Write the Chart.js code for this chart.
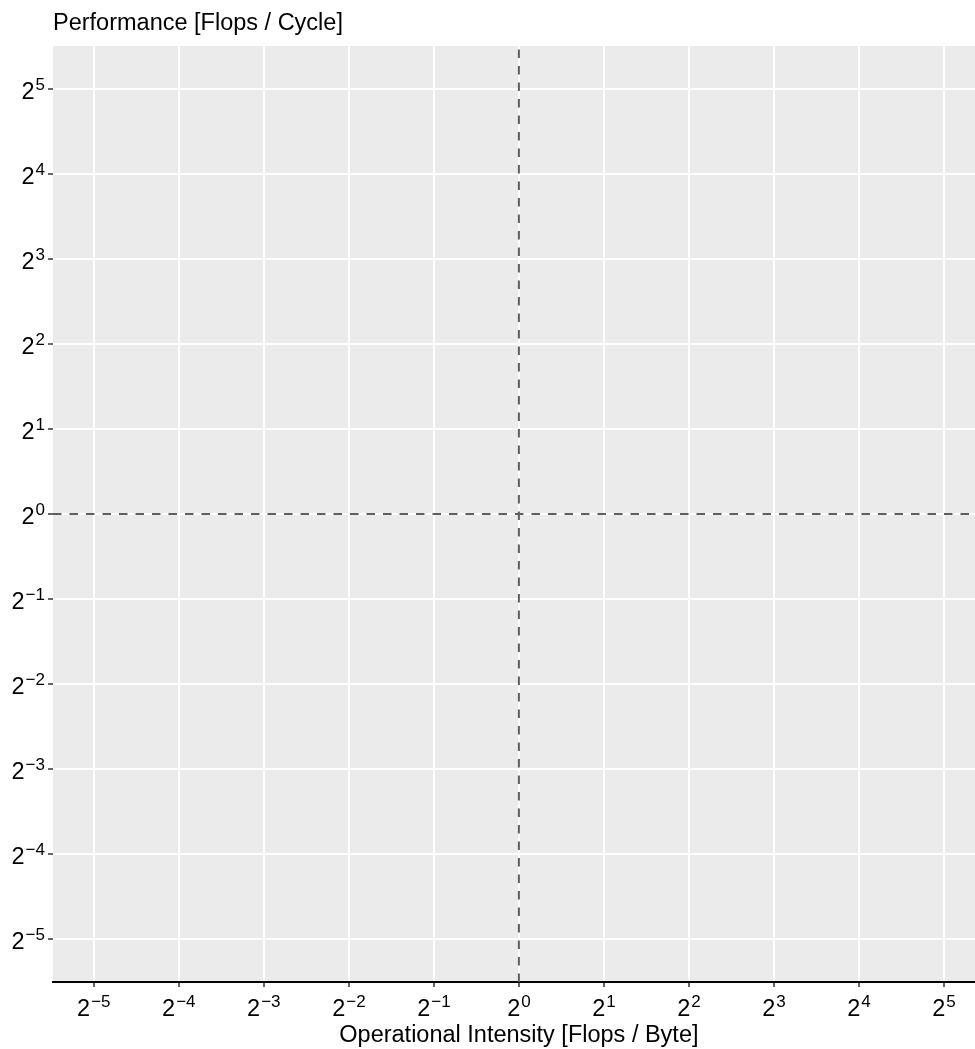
<!DOCTYPE html>
<html>
<head>
<meta charset="utf-8">
<script src="https://cdn.jsdelivr.net/npm/chart.js@4/dist/chart.umd.min.js"></script>
<style>
  html, body { margin: 0; padding: 0; background: #fff; }
  #wrap { width: 975px; height: 1049px; }
</style>
</head>
<body>
<div id="wrap"><canvas id="roofline" width="975" height="1049"></canvas></div>
<script>
  // expoentes (base 2) dos ticks
  const xExponents = [-5, -4, -3, -2, -1, 0, 1, 2, 3, 4, 5];
  const yExponents = [-5, -4, -3, -2, -1, 0, 1, 2, 3, 4, 5];
  const xLimits = [-5.48, 5.365];
  const yLimits = [-5.5, 5.5];
  // linhas tracejadas em 2^0
  const refX = 0;
  const refY = 0;

  const xTitle = 'Operational Intensity [Flops / Byte]';
  const yTitle = 'Performance [Flops / Cycle]';

  const FONT = '"Liberation Sans", Arial, Helvetica, sans-serif';

  function drawPow(ctx, exp, x, baseline, align) {
    const expTxt = exp < 0 ? '\u2212' + Math.abs(exp) : String(exp);
    ctx.font = '23.5px ' + FONT;
    const wBase = ctx.measureText('2').width;
    ctx.font = '17px ' + FONT;
    const wExp = ctx.measureText(expTxt).width;
    const total = wBase + 1 + wExp;
    let start = align === 'right' ? x - total : x - total / 2;
    ctx.fillStyle = '#000';
    ctx.textAlign = 'left';
    ctx.textBaseline = 'alphabetic';
    ctx.font = '23.5px ' + FONT;
    ctx.fillText('2', start, baseline);
    ctx.font = '17px ' + FONT;
    ctx.fillText(expTxt, start + wBase + 1, baseline - 9);
  }

  const painel = {
    id: 'painel',
    beforeDraw(chart) {
      const { ctx, chartArea: a } = chart;
      ctx.save();
      ctx.fillStyle = '#EBEBEB';
      ctx.fillRect(a.left, a.top, a.right - a.left, a.bottom - a.top);
      ctx.restore();
    },
    afterDraw(chart) {
      const { ctx, chartArea: a, scales } = chart;
      ctx.save();
      yExponents.forEach(e => {
        const y = scales.y.getPixelForValue(e);
        drawPow(ctx, e, 45, y + 10, 'right');
      });
      xExponents.forEach(e => {
        const x = scales.x.getPixelForValue(e);
        drawPow(ctx, e, x, 1016, 'center');
      });
      ctx.fillStyle = '#000';
      ctx.font = '23.5px ' + FONT;
      ctx.textAlign = 'left';
      ctx.fillText(yTitle, a.left, 30);
      // o painel original continua um pouco além da borda direita
      const cx = (a.left + scales.x.getPixelForValue(-xLimits[0])) / 2;
      ctx.textAlign = 'center';
      ctx.fillText(xTitle, cx, 1042);
      ctx.restore();
    }
  };

  new Chart(document.getElementById('roofline'), {
    type: 'scatter',
    data: {
      datasets: [
        {
          data: [{ x: refX, y: yLimits[0] }, { x: refX, y: yLimits[1] }],
          showLine: true,
          borderColor: '#5f5f5f',
          borderWidth: 2,
          borderDash: [8.5, 8],
          pointRadius: 0
        },
        {
          data: [{ x: xLimits[0], y: refY }, { x: xLimits[1], y: refY }],
          showLine: true,
          borderColor: '#5f5f5f',
          borderWidth: 2,
          borderDash: [8.5, 8],
          pointRadius: 0
        }
      ]
    },
    options: {
      responsive: false,
      animation: false,
      layout: { padding: { top: 46, left: 0, right: 0, bottom: 0 } },
      plugins: {
        legend: { display: false },
        tooltip: { enabled: false },
        title: { display: false }
      },
      scales: {
        x: {
          type: 'linear',
          min: xLimits[0],
          max: xLimits[1],
          afterBuildTicks: s => { s.ticks = xExponents.map(v => ({ value: v })); },
          afterFit: s => { s.height = 67; },
          ticks: { display: false },
          grid: { color: '#FFFFFF', lineWidth: 2, tickColor: '#333333', tickLength: 5, tickWidth: 1.5 },
          border: { display: true, color: '#000000', width: 2 }
        },
        y: {
          type: 'linear',
          min: yLimits[0],
          max: yLimits[1],
          afterBuildTicks: s => { s.ticks = yExponents.map(v => ({ value: v })); },
          afterFit: s => { s.width = 53; },
          ticks: { display: false },
          grid: { color: '#FFFFFF', lineWidth: 2, tickColor: '#333333', tickLength: 5, tickWidth: 1.5 },
          border: { display: false }
        }
      }
    },
    plugins: [painel]
  });
</script>
</body>
</html>
